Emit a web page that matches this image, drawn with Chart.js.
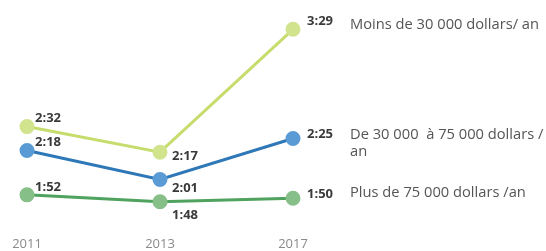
<!DOCTYPE html>
<html><head><meta charset="utf-8">
<script src="https://cdn.jsdelivr.net/npm/chart.js@4"></script>
<style>html,body{margin:0;padding:0;background:#fff}#wrap{width:546px;height:251px}</style>
</head><body><div id="wrap"><canvas id="c" width="546" height="251"></canvas></div>
<script>
const categories = ['2011', '2013', '2017'];
const seriesNames = [
  ['Moins de 30 000 dollars/ an'],
  ['De 30 000  à 75 000 dollars /', 'an'],
  ['Plus de 75 000 dollars /an']
];
// minutes per day
const lowIncome = [152, 137, 209];
const midIncome = [138, 121, 145];
const highIncome = [112, 108, 110];

const lineColors = ['#c6dc6c', '#2f78b8', '#4fa35e'];
const pointColors = ['#d2e38e', '#5b9bd5', '#86bf88'];
const labelOffsets = [
  [[8, -8], [12, 4], [14, -8]],
  [[8, -8], [12, 9], [14, -4]],
  [[8, -8], [12, 14], [14, -4]]
];
const legendOffsets = [-4, -4, -5];

function fmt(v) { const h = Math.floor(v / 60), m = v % 60; return h + ':' + (m < 10 ? '0' : '') + m; }

const labelPlugin = {
  id: 'labels',
  afterDatasetsDraw(chart) {
    const ctx = chart.ctx;
    ctx.save();
    chart.data.datasets.forEach((ds, i) => {
      const meta = chart.getDatasetMeta(i);
      meta.data.forEach((pt, j) => {
        const o = labelOffsets[i][j];
        ctx.font = 'bold 13px "Open Sans"';
        ctx.fillStyle = '#3a3a3a';
        ctx.textAlign = 'left';
        ctx.textBaseline = 'middle';
        ctx.fillText(fmt(ds.data[j]), pt.x + o[0], pt.y + o[1]);
      });
      const last = meta.data[meta.data.length - 1];
      ctx.font = '14.7px "Open Sans"';
      ctx.fillStyle = '#555';
      seriesNames[i].forEach((line, k) => {
        ctx.fillText(line, last.x + 57, last.y + legendOffsets[i] + k * 17);
      });
    });
    ctx.restore();
  }
};

new Chart(document.getElementById('c'), {
  type: 'line',
  data: {
    labels: categories,
    datasets: [lowIncome, midIncome, highIncome].map((d, i) => ({
      label: seriesNames[i].join(' '),
      data: d,
      borderColor: lineColors[i],
      backgroundColor: pointColors[i],
      pointBackgroundColor: pointColors[i],
      pointBorderColor: pointColors[i],
      borderWidth: 3,
      pointRadius: 6,
      tension: 0
    }))
  },
  options: {
    responsive: false,
    animation: false,
    events: [],
    layout: { autoPadding: false, padding: { left: 27, right: 253, top: 2, bottom: -5 } },
    plugins: { legend: { display: false }, tooltip: { enabled: false } },
    scales: {
      x: {
        offset: false,
        grid: { display: false, drawTicks: false },
        border: { display: false },
        ticks: { color: '#8a8a8a', font: { family: 'Open Sans', size: 13 }, padding: 4, maxRotation: 0 }
      },
      y: { display: false, min: 90, max: 225 }
    }
  },
  plugins: [labelPlugin]
});
</script></body></html>
